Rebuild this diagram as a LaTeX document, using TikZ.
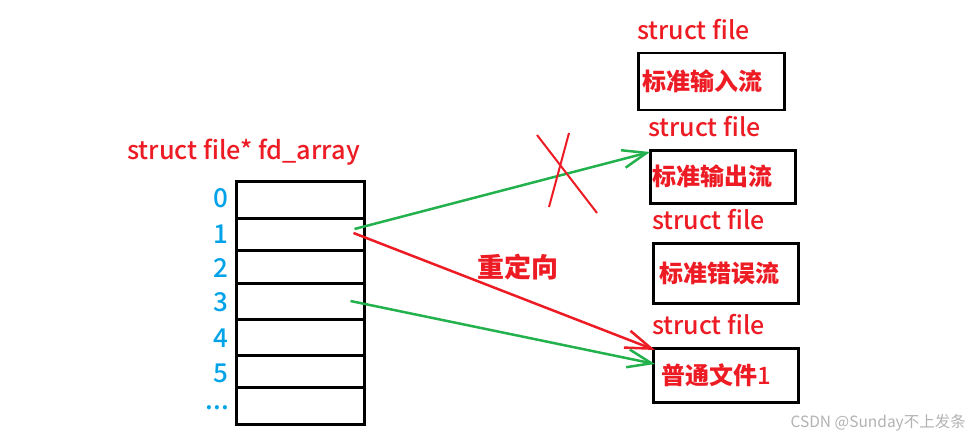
\documentclass[tikz,border=0pt]{standalone}
\usepackage{fontspec}
\setmainfont{Noto Sans CJK SC}
\newfontfamily\medfont{Noto Sans CJK SC Medium}
\usetikzlibrary{arrows.meta,calc}
\definecolor{pred}{RGB}{237,28,36}
\definecolor{pgreen}{RGB}{34,177,76}
\definecolor{pblue}{RGB}{0,162,232}
\tikzset{
  cell/.style={draw,line width=2.5pt,minimum width=128pt,anchor=north west,inner sep=0pt},
  idx/.style={text=pblue,font=\fontsize{26}{26}\medfont,anchor=east,inner sep=0pt,text height=14pt,text depth=0pt},
  sf/.style={text=pred,font=\fontsize{25}{25}\medfont,anchor=west,inner sep=0pt},
  fbox/.style={draw,line width=2.5pt,anchor=north west,text=pred,font=\fontsize{24}{24}\selectfont\bfseries,align=left,inner ysep=0pt},
  garrow/.style={draw=pgreen,line width=2.5pt,-{Straight Barb[length=24pt,width=18pt,line width=2.5pt]}},
  rarrow/.style={draw=pred,line width=2.5pt,-{Straight Barb[length=26pt,width=18pt,line width=2.5pt]}},
  cross/.style={draw=pred,line width=2pt}
}
\begin{document}
\begin{tikzpicture}[x=1pt,y=-1pt]
\useasboundingbox (0,0) rectangle (971,441);
% array
\node[sf,font=\fontsize{25.3}{25.3}\medfont] (title) at (127,152) {struct file* fd\_array};
\node[cell,minimum height=37pt] (c0) at (235,180) {};
\node[cell,minimum height=32pt] (c1) at (235,217) {};
\node[cell,minimum height=33pt] (c2) at (235,249) {};
\node[cell,minimum height=36pt] (c3) at (235,282) {};
\node[cell,minimum height=36pt] (c4) at (235,318) {};
\node[cell,minimum height=32pt] (c5) at (235,354) {};
\node[cell,minimum height=37pt] (c6) at (235,386) {};
\node[idx] (i0) at (229,200) {0};
\node[idx] (i1) at (229,236) {1};
\node[idx] (i2) at (229,270) {2};
\node[idx] (i3) at (229,304) {3};
\node[idx] (i4) at (229,340) {4};
\node[idx] (i5) at (229,375) {5};
\node[idx,text height=4pt] (i6) at (229,407) {...};
% files
\node[sf] (s1) at (637,30) {struct file};
\node[fbox,minimum width=146pt,minimum height=57pt,inner xsep=4pt,text width=138pt] (f1) at (637,52) {标准输入流};
\node[sf] (s2) at (648,127) {struct file};
\node[fbox,minimum width=145pt,minimum height=53pt,inner xsep=2pt,text width=141pt] (f2) at (649,149) {标准输出流};
\node[sf] (s3) at (652,220) {struct file};
\node[fbox,minimum width=145pt,minimum height=60pt,inner xsep=6pt,text width=133pt] (f3) at (652,242) {标准错误流};
\node[sf] (s4) at (652,325) {struct file};
\node[fbox,minimum width=145pt,minimum height=54pt,inner xsep=8pt,text width=129pt] (f4) at (652,347) {普通文件{\medfont\mdseries 1}};
% arrows
\coordinate (g1s) at ($(c1.north east)+(-11,12)$);
\coordinate (r1s) at ($(c1.north east)+(-12,16)$);
\coordinate (g3s) at ($(c3.north east)+(-15,19)$);
\draw[garrow] (g1s) -- ($(f2.north west)+(1,3)$);
\draw[rarrow] (r1s) -- ($(f4.north west)+(3,3)$);
\draw[garrow] (g3s) -- ($(f4.north west)+(3,17)$);
% cross
\coordinate (x1a) at (537,135);
\coordinate (x1b) at (597,213);
\coordinate (x2a) at (569,133);
\coordinate (x2b) at (549,207);
\draw[cross] (x1a) -- (x1b);
\draw[cross] (x2a) -- (x2b);
\node[text=pred,font=\fontsize{27}{27}\selectfont\bfseries,inner sep=0pt] (redir) at (518,267) {重定向};
\node[text=black!30,font=\fontsize{15.5}{15.5}\selectfont,anchor=east,inner sep=0pt] (wm) at (966,423) {CSDN @Sunday不上发条};
\end{tikzpicture}
\end{document}
